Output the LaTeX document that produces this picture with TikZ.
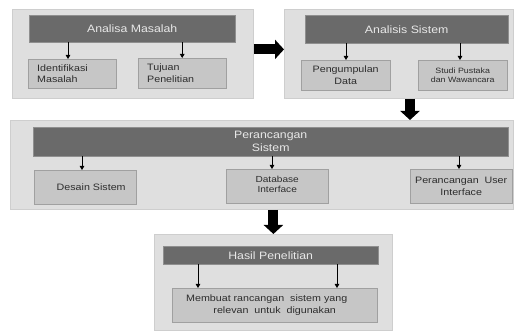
\documentclass[tikz,border=0pt]{standalone}
\usepackage{fontspec}
\setmainfont{Liberation Sans}[FakeStretch=1.15]
\usetikzlibrary{arrows.meta,positioning}
\definecolor{PanelGray}{RGB}{223,223,223}
\definecolor{PanelEdge}{RGB}{206,206,206}
\definecolor{BarGray}{RGB}{106,106,106}
\definecolor{BarText}{RGB}{232,232,232}
\definecolor{BoxGray}{RGB}{198,198,198}
\definecolor{BoxEdge}{RGB}{160,160,160}
\definecolor{InkGray}{RGB}{45,45,45}

\begin{document}
\begin{tikzpicture}[
    x=1pt, y=-1pt,
    panel/.style={rectangle, draw=PanelEdge, fill=PanelGray, line width=0.8pt,
                  inner sep=0pt, anchor=north west},
    bar/.style={rectangle, draw=BarGray!75!white, fill=BarGray, text=BarText,
                inner sep=0pt, anchor=north west, align=center,
                font=\fontsize{10.7}{13}\selectfont},
    sub/.style={rectangle, draw=BoxEdge, fill=BoxGray, text=InkGray,
                inner sep=0pt, anchor=north west, align=center,
                font=\fontsize{9.3}{11.5}\selectfont},
    small/.style={font=\fontsize{7.7}{9.5}\selectfont},
    arr/.style={-{Triangle[length=4pt,width=4.5pt]}, line width=0.8pt, black},
    bigarr/.style={-{Triangle[length=9pt,width=19pt]}, line width=10pt, black},
]
\useasboundingbox (0,0) rectangle (515,331);

% -- Analisa Masalah --
\node[panel, minimum width=241pt, minimum height=89pt] (p1) at (12,9) {};
\node[bar, minimum width=206pt, minimum height=27pt] (masalah) at (29,15) {Analisa Masalah};
\node[sub, minimum height=29pt, text width=70pt, inner xsep=9pt, align=left]
    (ident) at (28,59) {Identifikasi\\Masalah};
\node[sub, minimum height=30pt, text width=70pt, inner xsep=9pt, align=left]
    (tujuan) at (138,58) {Tujuan\\Penelitian};

% -- Analisis Sistem --
\node[panel, minimum width=229pt, minimum height=89pt] (p2) at (284,9) {};
\node[bar, minimum width=203pt, minimum height=28pt] (analisis) at (305,15) {Analisis Sistem};
\node[sub, minimum width=89pt, minimum height=30pt] (kumpul) at (301,60) {Pengumpulan\\Data};
\node[sub, small, minimum width=89pt, minimum height=30pt] (studi) at (418,60) {Studi Pustaka\\dan Wawancara};

% -- Perancangan Sistem --
\node[panel, minimum width=503pt, minimum height=89pt] (p3) at (10,120) {};
\node[bar, minimum width=475pt, minimum height=29pt, text depth=-3pt] (rancang) at (33,127)
    {Perancangan\\Sistem};
\node[sub, minimum width=102pt, minimum height=34pt] (desain) at (34,170)
    {\hspace*{12pt}Desain Sistem};
\node[sub, font=\fontsize{8.8}{10}\selectfont, minimum width=102pt, minimum height=34pt,
      text depth=4pt] (dbase) at (226,169) {Database\\Interface};
\node[sub, minimum width=102pt, minimum height=34pt] (ui) at (410,169)
    {Perancangan\ \ User\\Interface};

% -- Hasil Penelitian --
\node[panel, minimum width=238pt, minimum height=96pt] (p4) at (154,234) {};
\node[bar, minimum width=215pt, minimum height=18pt] (hasil) at (163,246) {Hasil Penelitian};
\node[sub, minimum width=205pt, minimum height=34pt] (buat) at (172,288)
    {Membuat rancangan\ \ sistem yang\hspace*{16pt}\\relevan\ \ untuk\ \ digunakan};

% -- small arrows --
\draw[arr] (masalah.south -| 68,0) -- (ident.north -| 68,0);
\draw[arr] (masalah.south -| tujuan.north) -- (tujuan.north);
\draw[arr] (analisis.south -| 346,0) -- (kumpul.north -| 346,0);
\draw[arr] (analisis.south -| 460,0) -- (studi.north -| 460,0);
\draw[arr] (rancang.south -| 82,0) -- (desain.north -| 82,0);
\draw[arr] (rancang.south -| 272,0) -- (dbase.north -| 272,0);
\draw[arr] (rancang.south -| 459,0) -- (ui.north -| 459,0);
\draw[arr] (hasil.south -| 198,0) -- (buat.north -| 198,0);
\draw[arr] (hasil.south -| 337,0) -- (buat.north -| 337,0);

% -- big arrows between panels --
\draw[bigarr] ([yshift=4.5pt]p1.east) -- ([yshift=4.5pt]p2.west);
\draw[bigarr] (p2.south -| 410,0) -- (p3.north -| 410,0);
\draw[bigarr] (p4.north |- p3.south) -- (p4.north);

\end{tikzpicture}
\end{document}
